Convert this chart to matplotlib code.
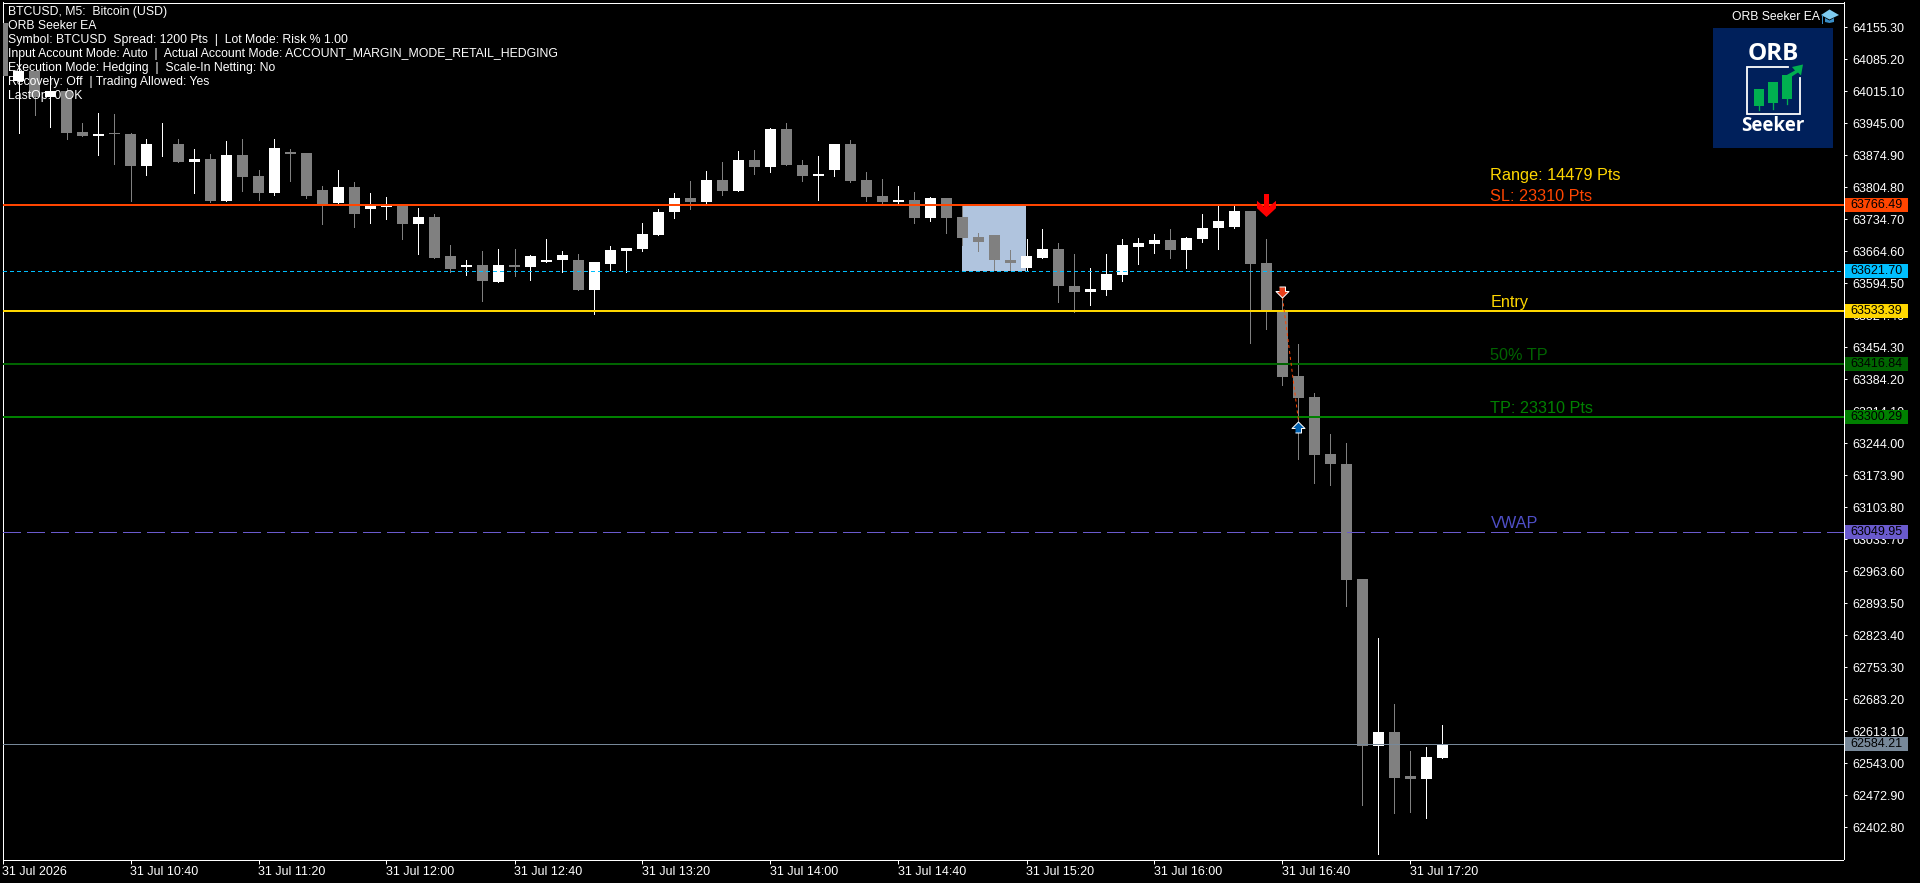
import matplotlib
matplotlib.use("Agg")
import matplotlib.pyplot as plt
import matplotlib.patches as mpatches
from matplotlib.transforms import IdentityTransform, blended_transform_factory
import numpy as np

# OHLC, bar 0 = 31 Jul 10:00
opens = [64165, 64036, 64060, 64001, 64016, 63926, 63916, 63924, 63922, 63850,
         63898, 63900, 63859, 63867, 63775, 63876, 63828, 63791, 63881, 63880,
         63799, 63769, 63804, 63756, 63762, 63764, 63723, 63740, 63653, 63629,
         63633, 63596, 63633, 63629, 63640, 63644, 63644, 63580, 63637, 63664,
         63670, 63699, 63749, 63780, 63771, 63821, 63797, 63865, 63848, 63931,
         63854, 63830, 63843, 63898, 63821, 63786, 63773, 63777, 63736, 63780,
         63740, 63696, 63699, 63646, 63628, 63650, 63670, 63589, 63574, 63580,
         63613, 63674, 63681, 63688, 63666, 63692, 63714, 63718, 63753, 63639,
         63532, 63390, 63344, 63219, 63199, 62947, 62581, 62612, 62514, 62507, 62555]
highs = [64165, 64089, 64060, 64049, 64022, 63946, 63968, 63964, 63924, 63909,
         63946, 63911, 63889, 63878, 63905, 63911, 63843, 63911, 63887, 63880,
         63808, 63841, 63815, 63791, 63782, 63767, 63758, 63745, 63677, 63644,
         63664, 63670, 63670, 63655, 63690, 63664, 63657, 63640, 63675, 63672,
         63725, 63756, 63791, 63817, 63839, 63859, 63883, 63885, 63933, 63946,
         63865, 63872, 63898, 63907, 63837, 63823, 63806, 63793, 63784, 63780,
         63764, 63705, 63699, 63666, 63690, 63712, 63683, 63657, 63628, 63657,
         63692, 63694, 63701, 63712, 63696, 63745, 63764, 63764, 63753, 63690,
         63571, 63462, 63353, 63263, 63243, 62947, 62816, 62673, 62570, 62579, 62627]
lows = [64047, 63923, 63962, 63937, 63910, 63916, 63874, 63856, 63775, 63832,
        63872, 63859, 63791, 63773, 63775, 63797, 63777, 63788, 63817, 63780,
        63723, 63769, 63718, 63727, 63734, 63690, 63657, 63650, 63618, 63611,
        63556, 63596, 63609, 63602, 63640, 63618, 63579, 63526, 63624, 63618,
        63664, 63699, 63736, 63756, 63769, 63788, 63797, 63834, 63837, 63852,
        63819, 63777, 63830, 63815, 63775, 63769, 63769, 63725, 63731, 63705,
        63677, 63664, 63622, 63622, 63622, 63650, 63552, 63532, 63547, 63569,
        63598, 63637, 63661, 63650, 63628, 63685, 63670, 63714, 63464, 63493,
        63372, 63210, 63156, 63151, 62888, 62452, 62343, 62433, 62435, 62422, 62553]
closes = [64047, 64060, 64002, 64016, 63924, 63916, 63922, 63920, 63850, 63900,
          63900, 63859, 63867, 63775, 63876, 63826, 63791, 63891, 63878, 63786,
          63768, 63804, 63745, 63764, 63764, 63723, 63740, 63650, 63626, 63633,
          63598, 63633, 63629, 63653, 63646, 63655, 63580, 63640, 63666, 63672,
          63701, 63751, 63780, 63773, 63821, 63797, 63865, 63848, 63931, 63852,
          63830, 63834, 63898, 63819, 63784, 63773, 63777, 63736, 63780, 63738,
          63694, 63685, 63644, 63639, 63653, 63670, 63587, 63574, 63582, 63615,
          63677, 63683, 63688, 63666, 63694, 63716, 63731, 63753, 63637, 63534,
          63388, 63342, 63217, 63197, 62945, 62581, 62612, 62511, 62507, 62557, 62584]

# price scale
price_ticks = [64155.30, 64085.20, 64015.10, 63945.00, 63874.90, 63804.80, 63734.70,
               63664.60, 63594.50, 63524.40, 63454.30, 63384.20, 63314.10, 63244.00,
               63173.90, 63103.80, 63033.70, 62963.60, 62893.50, 62823.40, 62753.30,
               62683.20, 62613.10, 62543.00, 62472.90, 62402.80]
time_tick_bars = [0, 8, 16, 24, 32, 40, 48, 56, 64, 72, 80, 88]
time_tick_labels = ["31 Jul 2026", "31 Jul 10:40", "31 Jul 11:20", "31 Jul 12:00",
                    "31 Jul 12:40", "31 Jul 13:20", "31 Jul 14:00", "31 Jul 14:40",
                    "31 Jul 15:20", "31 Jul 16:00", "31 Jul 16:40", "31 Jul 17:20"]

# EA levels
sl_price = 63766.49
range_low = 63621.70
entry_price = 63533.39
tp50_price = 63416.84
tp_price = 63300.29
vwap_price = 63049.95
last_price = 62584.21

level_prices = [sl_price, range_low, entry_price, tp50_price, tp_price, vwap_price, last_price]
level_colors = ["#FF4500", "#00BFFF", "#FFD700", "#006400", "#008000", "#6A5ACD", "#778899"]

# opening range box and trade marks
range_start_bar = 60
range_end_bar = 64
signal_bar = 79
signal_price = 63765
open_bar = 80
open_mark_price = 63575
open_line_price = 63563
close_bar = 81
close_mark_price = 63279
close_line_price = 63293

header_lines = [
    "BTCUSD, M5:  Bitcoin (USD)",
    "ORB Seeker EA",
    "Symbol: BTCUSD  Spread: 1200 Pts  |  Lot Mode: Risk % 1.00",
    "Input Account Mode: Auto  |  Actual Account Mode: ACCOUNT_MARGIN_MODE_RETAIL_HEDGING",
    "Execution Mode: Hedging  |  Scale-In Netting: No",
    "Recovery: Off  | Trading Allowed: Yes",
    "LastOp: 0 OK",
]

W, H = 1920, 883
FONT = "Liberation Sans"
PX = 72 / 100  # one pixel in points at dpi=100

plt.rcParams["font.family"] = FONT

fig = plt.figure(figsize=(W / 100, H / 100), dpi=100, facecolor="black")
ax = fig.add_axes([2.5 / W, (H - 859.5) / H, 1841 / W, 857 / H], facecolor="black")
ax.set_xlim(0, 1841 / 16)
ax.set_ylim(62331.7, 64209.0)

bars = np.arange(len(opens))
o, h, l, c = map(np.array, (opens, highs, lows, closes))
colors = np.where(c >= o, "#FFFFFF", "#808080")

# range box sits behind the candles
ax.add_patch(mpatches.Rectangle((range_start_bar, range_low), range_end_bar - range_start_bar,
                                sl_price - range_low, facecolor="#B0C4DE", edgecolor="none", zorder=1))

ax.vlines(bars, l, h, colors=colors, linewidth=PX, antialiased=False, zorder=2)
ax.bar(bars, np.abs(c - o), bottom=np.minimum(o, c), width=11 / 16, color=colors,
       linewidth=0, antialiased=False, zorder=3)

# level lines
ax.axhline(sl_price, color=level_colors[0], linewidth=2 * PX, antialiased=False, zorder=4)
ax.axhline(range_low, color=level_colors[1], linewidth=PX, linestyle=(0, (3, 3)), antialiased=False, zorder=4)
ax.axhline(entry_price, color=level_colors[2], linewidth=2 * PX, antialiased=False, zorder=4)
ax.axhline(tp50_price, color=level_colors[3], linewidth=2 * PX, antialiased=False, zorder=4)
ax.axhline(tp_price, color=level_colors[4], linewidth=2 * PX, antialiased=False, zorder=4)
ax.axhline(vwap_price, color=level_colors[5], linewidth=PX, linestyle=(0, (18, 6)), antialiased=False, zorder=4)
ax.axhline(last_price, color=level_colors[6], linewidth=PX, antialiased=False, zorder=4)

# labels over the lines
ax.annotate("Range: 14479 Pts", (93, sl_price), xytext=(0, 25), textcoords="offset pixels",
            color="#FFD700", fontsize=11.7, va="baseline", zorder=6)
label_specs = [("SL: 23310 Pts", sl_price, "#FF4500"), ("Entry", entry_price, "#FFD700"),
               ("50% TP", tp50_price, "#006400"), ("TP: 23310 Pts", tp_price, "#008000"),
               ("VWAP", vwap_price, "#4F4FC8")]
for text, level, col in label_specs:
    ax.annotate(text, (93, level), xytext=(0, 4), textcoords="offset pixels",
                color=col, fontsize=11.7, va="baseline", zorder=6)

# trade line and arrows
ax.plot([open_bar, close_bar], [open_line_price, close_line_price], color="#FF4500",
        linewidth=PX, linestyle=(0, (3, 3)), zorder=5)

big_arrow = [(-2.5, 11.5), (2.5, 11.5), (2.5, -1.3), (9.5, 4.7), (9.5, -2.7), (0, -11.5),
             (-9.5, -2.7), (-9.5, 4.7), (-2.5, -1.3)]
ax.plot([signal_bar], [signal_price], marker=big_arrow, markersize=23 * PX, color="#FF0000",
        markeredgewidth=0, linestyle="none", zorder=7)
trade_down = [(-3, 5.5), (3, 5.5), (3, 1), (6.5, 1), (0, -5.5), (-6.5, 1), (-3, 1)]
trade_up = [(x, -y) for x, y in trade_down]
ax.plot([open_bar], [open_mark_price], marker=trade_down, markersize=13 * PX, color="#E8401C",
        markeredgecolor="white", markeredgewidth=PX, linestyle="none", zorder=7)
ax.plot([close_bar], [close_mark_price], marker=trade_up, markersize=13 * PX, color="#0060B0",
        markeredgecolor="white", markeredgewidth=PX, linestyle="none", zorder=7)

# axes furniture, MT5 style
for spine in ax.spines.values():
    spine.set_color("white")
    spine.set_linewidth(PX)
    spine.set_antialiased(False)
ax.yaxis.tick_right()
ax.set_yticks(price_ticks)
ax.set_yticklabels([f"{p:.2f}" for p in price_ticks])
ax.tick_params(axis="y", colors="white", length=3 * PX, width=PX, pad=4, labelsize=9)
ax.set_xticks(time_tick_bars)
ax.set_xticklabels(time_tick_labels, ha="left")
ax.tick_params(axis="x", colors="white", length=4 * PX, width=PX, pad=2, labelsize=9)

# price tags on the scale, they cover tick labels
tag_trans = blended_transform_factory(IdentityTransform(), ax.transData)
tag_half = 7 * (64209.0 - 62331.7) / 857
for level, col in zip(level_prices, level_colors):
    ax.add_patch(mpatches.Rectangle((1845, level - tag_half), 63, 2 * tag_half, facecolor=col,
                                    edgecolor="none", transform=tag_trans, clip_on=False, zorder=10))
    ax.text(1850, level, f"{level:.2f}", color="black", fontsize=9, va="center", ha="left",
            transform=tag_trans, clip_on=False, zorder=11)

# overlay in pixel coordinates for header text and logo
top = fig.add_axes([0, 0, 1, 1], facecolor="none")
top.set_xlim(0, W)
top.set_ylim(H, 0)
top.axis("off")

for k, line in enumerate(header_lines):
    top.text(8, 11.7 + 14 * k, line, color="#FFFFFF", fontsize=8.82, va="center", ha="left")

top.text(1732, 16.7, "ORB Seeker EA", color="white", fontsize=8.7, va="center", ha="left")
# little mortarboard icon
top.add_patch(mpatches.Polygon([(1821, 15), (1829.5, 9.5), (1839, 15), (1829.5, 19.5)], facecolor="#7FCBEF", edgecolor="none"))
top.add_patch(mpatches.Polygon([(1825, 18), (1829.5, 20.5), (1834, 18), (1834, 22), (1829.5, 23), (1825, 22)],
                               facecolor="#3A8FC8", edgecolor="none"))
top.plot([1822, 1822], [15, 22.5], color="#3A8FC8", linewidth=PX)

# logo tile
top.add_patch(mpatches.Rectangle((1713, 28), 120, 120, facecolor="#00205B", edgecolor="none"))
top.text(1773, 54.3, "ORB", color="white", fontsize=17.5, fontweight="bold", ha="center", va="center",
         family="Open Sans")
top.text(1773, 125.7, "Seeker", color="white", fontsize=13.5, fontweight="bold", ha="center", va="center",
         family="Open Sans")
top.plot([1788, 1747, 1747, 1799.5, 1799.5], [67, 67, 114, 114, 78], color="white", linewidth=1.8 * PX,
         solid_joinstyle="miter")
for x0, y0, y1, y2 in [(1754, 89.3, 106, 110), (1768, 82, 103, 109), (1782, 75, 99, 104)]:
    top.add_patch(mpatches.Rectangle((x0, y0), 10, y1 - y0, facecolor="#00B050", edgecolor="none"))
    top.plot([x0 + 5, x0 + 5], [y1, y2], color="#00B050", linewidth=1.3 * PX)
top.add_patch(mpatches.Polygon([(1785, 76), (1795, 70.5), (1792, 67), (1803, 64.5), (1801, 75.5), (1798, 72.5), (1788, 79)],
                               facecolor="#00B050", edgecolor="none"))

fig.savefig("out.png", dpi=100, facecolor="black")
plt.close(fig)
